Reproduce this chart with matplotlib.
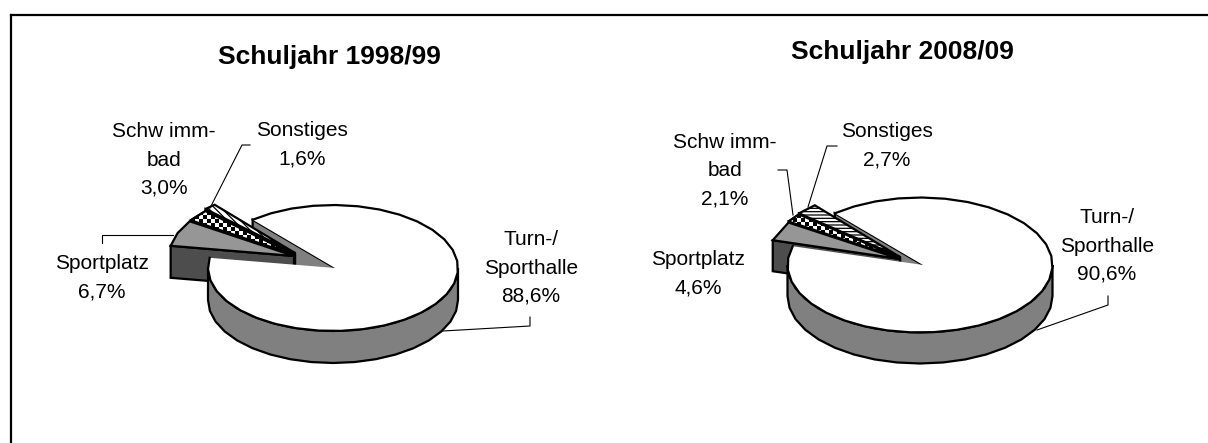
import numpy as np
import matplotlib
matplotlib.use("Agg")
import matplotlib.pyplot as plt
from matplotlib.patches import Polygon

plt.rcParams["font.family"] = ["Liberation Sans", "DejaVu Sans"]
plt.rcParams["hatch.linewidth"] = 0.9

# shares in percent, order is the way round the pie
names = ["Turn-/\nSporthalle", "Sonstiges", "Schw imm-\nbad", "Sportplatz"]
shares_1998 = [88.6, 1.6, 3.0, 6.7]
shares_2008 = [90.6, 2.7, 2.1, 4.6]
titles = ["Schuljahr 1998/99", "Schuljahr 2008/09"]

START = 130.0   # where the small slices begin, degrees
LW = 1.6

fig = plt.figure(figsize=(12.08, 4.43), dpi=100)
ax = fig.add_axes([0, 0, 1, 1])  # axes in picture pixels


def arc(cx, cy, rx, ry, a0, a1, step=10.0):
    n = max(int(abs(a1 - a0) / step), 1) + 1
    t = np.radians(np.linspace(a0, a1, n))
    return np.column_stack([cx + rx * np.cos(t), cy - ry * np.sin(t)])


def checker(poly, cell=4):
    x0, y0 = poly.min(axis=0)
    x1, y1 = poly.max(axis=0)
    nx = int((x1 - x0) / cell) + 1
    ny = int((y1 - y0) / cell) + 1
    yy, xx = np.indices((ny, nx))
    im = ax.imshow((xx + yy) % 2, cmap="gray", aspect="auto", interpolation="nearest",
                   extent=[x0, x0 + nx * cell, y0 + ny * cell, y0], zorder=3)
    patch = Polygon(poly, closed=True, fc="none", ec="none", transform=ax.transData)
    ax.add_patch(patch)
    im.set_clip_path(patch)


def small_slice(apex, rx, ry, depth, a0, a1, top, wall, hatch=None, check=False):
    pts = np.vstack([[apex], arc(apex[0], apex[1], rx, ry, a0, a1)])
    # side wall along the lower cut
    edge = pts[-1]
    ax.add_patch(Polygon([edge, apex, (apex[0], apex[1] + depth), (edge[0], edge[1] + depth)],
                         fc=wall, ec="black", lw=LW, zorder=3))
    ax.add_patch(Polygon(pts, fc=top, ec="black", lw=LW, hatch=hatch, zorder=3))
    if check:
        checker(pts)
        ax.add_patch(Polygon(pts, fc="none", ec="black", lw=LW, zorder=3))


def pie(shares, center, apex, rx, ry, depth, offsets, hatch):
    cx, cy = center
    ang = np.array(shares) * 3.6
    a_son = START + ang[1]
    a_sch = a_son + ang[2]
    a_spo = a_sch + ang[3]

    # inner wall of the big slice at the first cut
    e = arc(cx, cy, rx, ry, START, START)[0]
    ax.add_patch(Polygon([e, apex, (apex[0], apex[1] + depth), (e[0], e[1] + depth)],
                         fc="#808080", ec="black", lw=LW, zorder=2))

    small_slice((cx + offsets[0][0], cy + offsets[0][1]), rx, ry, depth, START, a_son,
                "white", "#808080", hatch=hatch)
    small_slice((cx + offsets[1][0], cy + offsets[1][1]), rx, ry, depth, a_son, a_sch,
                "white", "#808080", check=True)
    small_slice((cx + offsets[2][0], cy + offsets[2][1]), rx, ry, depth, a_sch, a_spo,
                "#969696", "#4d4d4d")

    # rim and top of the big slice
    rim_top = arc(cx, cy, rx, ry, max(a_spo, 180), 360)
    ax.add_patch(Polygon(np.vstack([rim_top, (rim_top + [0, depth])[::-1]]),
                         fc="#808080", ec="black", lw=LW, zorder=4))
    top = np.vstack([[apex], arc(cx, cy, rx, ry, a_spo, START + 360)])
    ax.add_patch(Polygon(top, fc="white", ec="none", zorder=5))
    ax.plot(*arc(cx, cy, rx, ry, a_spo, START + 360).T, color="black", lw=LW, zorder=6)


def label(x, y, name, share):
    ax.text(x, y, name + "\n" + f"{share:.1f}".replace(".", ",") + "%", ha="center", va="center",
            fontsize=15, linespacing=1.62, color="black", zorder=8)


def leader(xs, ys):
    ax.plot(xs, ys, color="black", lw=0.8, zorder=7)


# frame, only top and left are in the picture
ax.plot([11, 11], [443, 15], color="black", lw=1.6, zorder=1)
ax.plot([11, 1208], [15, 15], color="black", lw=1.6, zorder=1)

pie(shares_1998, (333, 268), (335, 268), 125, 63, 32, [(-38, -15), (-38, -13), (-39, -12)], "\\\\\\\\\\")
pie(shares_2008, (920, 265), (923, 265), 132.5, 67.5, 31, [(-20, -8), (-20, -7), (-20, -6)], "-----")

ax.text(329, 57, titles[0], ha="center", va="center", fontsize=19, fontweight="bold")
ax.text(902, 52, titles[1], ha="center", va="center", fontsize=19, fontweight="bold")

label(531, 268, names[0], shares_1998[0])
label(302, 145, names[1], shares_1998[1])
label(164, 160, names[2], shares_1998[2])
label(102, 278, names[3], shares_1998[3])

label(1107, 246, names[0], shares_2008[0])
label(887, 146, names[1], shares_2008[1])
label(725, 171, names[2], shares_2008[2])
label(698, 274, names[3], shares_2008[3])

leader([250, 242, 210], [145, 145, 208])
leader([102, 102, 173], [243, 235, 235])
leader([530, 530, 443], [317, 326, 331])
leader([837, 827, 808], [146, 146, 207])
leader([778, 787, 793], [170, 170, 215])
leader([1108, 1108, 1037], [296, 305, 330])

ax.set_xlim(0, 1208)
ax.set_ylim(443, 0)
ax.axis("off")
fig.savefig("out.png", dpi=100)
